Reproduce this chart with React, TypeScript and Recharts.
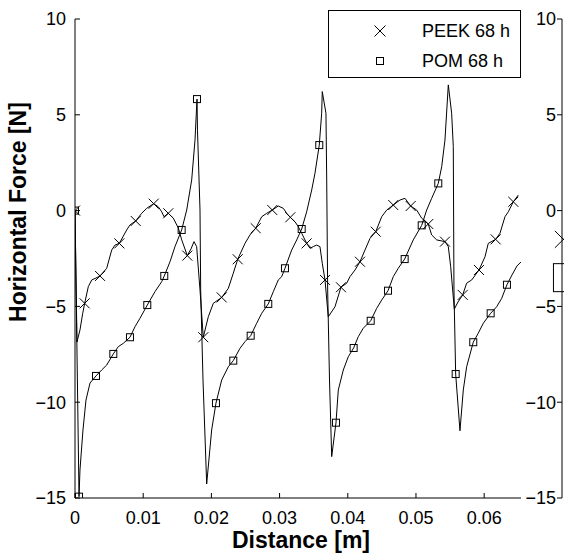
import React from 'react'
import { ComposedChart, Line, Scatter, XAxis, YAxis } from 'recharts'

const FONT = '"Liberation Sans", Arial, Helvetica, sans-serif'

// PEEK 68 h trace (distance in m, force in N)
const peekX = [
  0, 0.00029, 0.00073, 0.00113, 0.00142, 0.00195, 0.00245, 0.00308, 0.00367, 0.00465,
  0.00538, 0.00587, 0.0065, 0.00758, 0.00806, 0.0089, 0.00978, 0.01051, 0.01154, 0.01221,
  0.01271, 0.01305, 0.01368, 0.01441, 0.01515, 0.01565, 0.01647, 0.01701, 0.01745, 0.01784,
  0.01833, 0.01881, 0.01955, 0.02028, 0.02151, 0.02248, 0.02321, 0.02386, 0.02493, 0.02566,
  0.0265, 0.02738, 0.02811, 0.02893, 0.02981, 0.03054, 0.03104, 0.03157, 0.03226, 0.03274,
  0.03324, 0.03397, 0.03446, 0.03494, 0.03544, 0.03592, 0.03626, 0.03666, 0.03714, 0.03812,
  0.039, 0.03984, 0.04032, 0.04106, 0.04179, 0.04252, 0.04326, 0.0441, 0.04497, 0.04571,
  0.04667, 0.04765, 0.04839, 0.04922, 0.0501, 0.05084, 0.0518, 0.0523, 0.05304, 0.05425,
  0.05474, 0.05509, 0.05538, 0.05562, 0.05616, 0.05685, 0.05743, 0.05817, 0.05924, 0.06012,
  0.0606, 0.06168, 0.06232, 0.06305, 0.06354, 0.06427, 0.065,
]
const peekY = [
  0, -6.86, -6.23, -5.36, -4.84, -3.97, -3.62, -3.52, -3.41, -3.01,
  -2.06, -1.8, -1.71, -1.01, -0.75, -0.54, -0.14, 0.12, 0.36, 0.2,
  -0.06, -0.32, -0.14, -0.39, -0.91, -1.53, -2.35, -2.0, -1.62, -1.88,
  -4.14, -6.61, -5.54, -4.84, -4.53, -4.06, -3.27, -2.54, -1.71, -1.27,
  -0.92, -0.32, -0.14, 0.03, 0.24, 0.12, -0.14, -0.35, -0.58, -0.84,
  -1.18, -1.71, -1.97, -1.88, -1.8, -1.88, -2.75, -3.62, -5.54, -5.02,
  -4.0, -3.79, -3.45, -3.1, -2.67, -2.06, -1.45, -1.1, -0.32, 0.03,
  0.29, 0.55, 0.64, 0.24, 0.03, -0.4, -0.7, -1.27, -1.53, -1.62,
  -1.88, -2.93, -4.14, -5.14, -4.77, -4.4, -3.79, -3.62, -3.1, -2.41,
  -1.71, -1.5, -1.18, -0.32, -0.06, 0.46, 0.81,
]
const peekMarkerX = [
  0, 0.00142, 0.00367, 0.0065, 0.0089, 0.01154, 0.01368, 0.01647, 0.01881, 0.02151,
  0.02386, 0.0265, 0.02893, 0.03157, 0.03397, 0.03666, 0.039, 0.04179, 0.0441, 0.04667,
  0.04922, 0.0518, 0.05425, 0.05685, 0.05924, 0.06168, 0.06427,
]
const peekMarkerY = [
  0, -4.84, -3.41, -1.71, -0.54, 0.36, -0.14, -2.35, -6.61, -4.53,
  -2.54, -0.92, 0.03, -0.35, -1.71, -3.62, -4.0, -2.67, -1.1, 0.29,
  0.24, -0.7, -1.62, -4.4, -3.1, -1.5, 0.46,
]

// POM 68 h trace
const pomX = [
  0, 0.00059, 0.00073, 0.00117, 0.00161, 0.0022, 0.00308, 0.00391, 0.00465, 0.00562,
  0.00635, 0.00708, 0.00806, 0.0088, 0.00953, 0.0106, 0.01173, 0.01271, 0.01309, 0.01393,
  0.01466, 0.01564, 0.01638, 0.01711, 0.0176, 0.01789, 0.01796, 0.01833, 0.01843, 0.01877,
  0.01931, 0.02004, 0.02067, 0.02151, 0.02248, 0.02321, 0.02419, 0.02493, 0.02576, 0.02664,
  0.02738, 0.02834, 0.02908, 0.02981, 0.03031, 0.03079, 0.03177, 0.03251, 0.03324, 0.03397,
  0.03471, 0.03519, 0.03582, 0.03617, 0.03626, 0.0368, 0.03691, 0.03705, 0.03732, 0.03764,
  0.03827, 0.03861, 0.03934, 0.04007, 0.04086, 0.04154, 0.04227, 0.04336, 0.04424, 0.04497,
  0.0459, 0.04667, 0.0474, 0.04834, 0.0496, 0.05084, 0.05157, 0.0523, 0.05327, 0.05377,
  0.05425, 0.05474, 0.05523, 0.05547, 0.05557, 0.05582, 0.05645, 0.05694, 0.05743, 0.0584,
  0.05913, 0.05987, 0.06095, 0.06183, 0.06257, 0.06334, 0.06408, 0.06481, 0.0654,
]
const pomY = [
  0, -14.93, -13.54, -11.45, -9.89, -9.0, -8.63, -8.32, -8.06, -7.48,
  -7.1, -6.93, -6.61, -6.06, -5.62, -4.93, -4.23, -3.71, -3.41, -2.67,
  -1.88, -1.01, 0.03, 1.6, 3.69, 5.82, 4.2, 0.03, -4.14, -8.84,
  -14.27, -11.45, -10.05, -8.84, -8.15, -7.83, -7.19, -6.84, -6.53, -5.88,
  -5.36, -4.87, -4.23, -3.62, -3.45, -3.01, -2.06, -1.53, -0.96, -0.06,
  1.08, 1.95, 3.42, 5.08, 6.21, 5.08, 1.6, -4.14, -8.84, -12.84,
  -11.07, -9.36, -8.32, -7.63, -7.17, -6.58, -6.14, -5.75, -5.1, -4.67,
  -4.18, -3.45, -3.01, -2.53, -1.53, -0.77, 0.03, 0.64, 1.42, 2.29,
  3.68, 6.56, 5.08, 3.34, -4.14, -8.53, -11.49, -9.36, -8.15, -6.87,
  -6.4, -5.88, -5.36, -5.02, -4.58, -3.87, -3.36, -2.89, -2.68,
]
const pomMarkerX = [
  0, 0.00059, 0.00308, 0.00562, 0.00806, 0.0106, 0.01309, 0.01564, 0.01789, 0.02067,
  0.02321, 0.02576, 0.02834, 0.03079, 0.03324, 0.03582, 0.03827, 0.04086, 0.04336, 0.0459,
  0.04834, 0.05084, 0.05327, 0.05582, 0.0584, 0.06095, 0.06334,
]
const pomMarkerY = [
  0, -14.93, -8.63, -7.48, -6.61, -4.93, -3.41, -1.01, 5.82, -10.05,
  -7.83, -6.53, -4.87, -3.01, -0.96, 3.42, -11.07, -7.17, -5.75, -4.18,
  -2.53, -0.77, 1.42, -8.53, -6.87, -5.36, -3.87,
]

// the next panel, cut off at the right edge
const nextPanelPeekX = [0.0002]
const nextPanelPeekY = [-1.5]
const nextPanelPomX = [0.0008]
const nextPanelPomY = [-3.5]

const xTicks = [0, 0.01, 0.02, 0.03, 0.04, 0.05, 0.06]
const xTickLabels = ['0', '0.01', '0.02', '0.03', '0.04', '0.05', '0.06']
const yTicks = [-15, -10, -5, 0, 5, 10]
const yTickLabels = ['\u221215', '\u221210', '\u22125', '0', '5', '10']

const seriesNames = ['PEEK 68 h', 'POM 68 h']

const toPoints = (xs: number[], ys: number[]) => xs.map((x, i) => ({ x, y: ys[i] }))

const peekLine = toPoints(peekX, peekY)
const pomLine = toPoints(pomX, pomY)
const peekMarkers = toPoints(peekMarkerX, peekMarkerY)
const pomMarkers = toPoints(pomMarkerX, pomMarkerY)
const nextPeek = toPoints(nextPanelPeekX, nextPanelPeekY)
const nextPom = toPoints(nextPanelPomX, nextPanelPomY)

const X_DOMAIN: [number, number] = [0, 0.0654]

const CrossShape = (size: number) => (props: any) => {
  const { cx, cy } = props
  const h = size / 2
  return (
    <path
      d={`M${cx - h},${cy - h}L${cx + h},${cy + h}M${cx - h},${cy + h}L${cx + h},${cy - h}`}
      stroke="#000"
      strokeWidth={1}
      fill="none"
    />
  )
}

const SquareShape = (size: number) => (props: any) => {
  const { cx, cy } = props
  return (
    <rect x={cx - size / 2} y={cy - size / 2} width={size} height={size} stroke="#000" strokeWidth={1} fill="none" />
  )
}

const XTick = (props: any) => {
  const { x, y, payload } = props
  const label = xTickLabels[xTicks.indexOf(payload.value)]
  return (
    <g>
      <line x1={x} y1={y} x2={x} y2={y - 5} stroke="#000" />
      <text x={x} y={y + 26} textAnchor="middle" fontSize={18} fontFamily={FONT} fill="#000">
        {label}
      </text>
    </g>
  )
}

const YTick = (props: any) => {
  const { x, y, payload } = props
  const label = yTickLabels[yTicks.indexOf(payload.value)]
  return (
    <g>
      <line x1={x} y1={y} x2={x + 5} y2={y} stroke="#000" />
      <text x={x - 9} y={y} dy="0.36em" textAnchor="end" fontSize={18} fontFamily={FONT} fill="#000">
        {label}
      </text>
    </g>
  )
}

// the cut-off panel has its ticks on the outer side
const NextYTick = (props: any) => {
  const { x, y, payload } = props
  const label = yTickLabels[yTicks.indexOf(payload.value)]
  return (
    <g>
      <line x1={x - 5} y1={y} x2={x} y2={y} stroke="#000" />
      <text x={x - 6} y={y} dy="0.36em" textAnchor="end" fontSize={18} fontFamily={FONT} fill="#000">
        {label}
      </text>
    </g>
  )
}

const YLabel = () => {
  const cx = 18
  const cy = 212
  return (
    <text
      x={cx}
      y={cy}
      transform={`rotate(-90, ${cx}, ${cy})`}
      textAnchor="middle"
      dy="0.36em"
      fontSize={23}
      fontWeight="bold"
      fontFamily={FONT}
      fill="#000"
    >
      Horizontal Force [N]
    </text>
  )
}

const XLabel = (props: any) => {
  const { viewBox } = props
  const cx = viewBox.x + viewBox.width / 2 + 3
  return (
    <text x={cx} y={548} textAnchor="middle" fontSize={23} fontWeight="bold" fontFamily={FONT} fill="#000">
      Distance [m]
    </text>
  )
}

const LegendBox = () => (
  <div
    style={{
      position: 'absolute',
      left: 328,
      top: 10,
      width: 193,
      height: 68,
      boxSizing: 'border-box',
      border: '1px solid #000',
      background: '#fff',
      fontFamily: FONT,
      fontSize: 18,
      color: '#000',
    }}
  >
    {seriesNames.map((name, i) => (
      <div key={name} style={{ position: 'absolute', left: 0, top: i === 0 ? 9 : 39, height: 22, width: '100%' }}>
        <svg width={14} height={14} style={{ position: 'absolute', left: 44, top: 4 }}>
          {i === 0 ? (
            <path d="M1.5,1.5L12.5,12.5M1.5,12.5L12.5,1.5" stroke="#000" strokeWidth={1} fill="none" />
          ) : (
            <rect x={3.5} y={3.5} width={7} height={7} stroke="#000" strokeWidth={1} fill="none" />
          )}
        </svg>
        <span style={{ position: 'absolute', left: 93, top: 0, lineHeight: '22px', whiteSpace: 'nowrap' }}>{name}</span>
      </div>
    ))}
  </div>
)

export default function App() {
  return (
    <div
      style={{
        position: 'absolute',
        left: 0,
        top: 0,
        width: 564,
        height: 555,
        overflow: 'hidden',
        background: '#fff',
      }}
    >
      <div style={{ position: 'absolute', left: 0, top: 0 }}>
        <ComposedChart width={564} height={555} margin={{ top: 19, right: 43, bottom: 0, left: 0 }}>
          <XAxis
            dataKey="x"
            type="number"
            domain={X_DOMAIN}
            ticks={xTicks}
            interval={0}
            height={57}
            axisLine={{ stroke: '#000' }}
            tickLine={false}
            tickSize={0}
            tickMargin={0}
            tick={<XTick />}
            allowDataOverflow
            label={<XLabel />}
          />
          <YAxis
            dataKey="y"
            type="number"
            domain={[-15, 10]}
            ticks={yTicks}
            interval={0}
            width={75}
            axisLine={{ stroke: '#000' }}
            tickLine={false}
            tickSize={0}
            tickMargin={0}
            tick={<YTick />}
            allowDataOverflow
            label={<YLabel />}
          />
          <Line data={pomLine} dataKey="y" type="linear" stroke="#000" strokeWidth={1} dot={false} isAnimationActive={false} />
          <Line data={peekLine} dataKey="y" type="linear" stroke="#000" strokeWidth={1} dot={false} isAnimationActive={false} />
          <Scatter data={peekMarkers} dataKey="y" shape={CrossShape(10)} isAnimationActive={false} />
          <Scatter data={pomMarkers} dataKey="y" shape={SquareShape(7)} isAnimationActive={false} />
        </ComposedChart>
      </div>
      <div style={{ position: 'absolute', left: 480, top: 0 }}>
        <ComposedChart width={528} height={555} margin={{ top: 19, right: 0, bottom: 57, left: 0 }}>
          <XAxis dataKey="x" type="number" domain={X_DOMAIN} hide />
          <YAxis
            dataKey="y"
            type="number"
            domain={[-15, 10]}
            ticks={yTicks}
            interval={0}
            width={82}
            axisLine={{ stroke: '#000' }}
            tickLine={false}
            tickSize={0}
            tickMargin={0}
            tick={<NextYTick />}
          />
          <Scatter data={nextPeek} dataKey="y" shape={CrossShape(17)} isAnimationActive={false} />
          <Scatter data={nextPom} dataKey="y" shape={SquareShape(28)} isAnimationActive={false} />
        </ComposedChart>
      </div>
      <LegendBox />
    </div>
  )
}
